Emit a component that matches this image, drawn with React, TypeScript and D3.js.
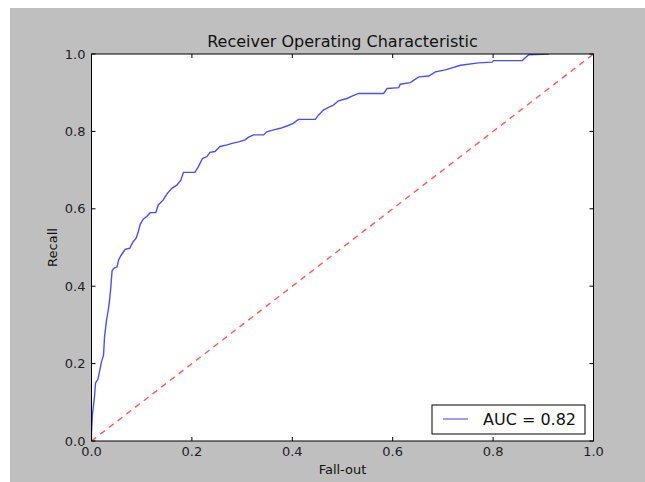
import { useEffect, useRef } from "react";
import * as d3 from "d3";

// ROC curve points
const fallOut = [
  0, 0, 0.002, 0.006, 0.008, 0.013, 0.016, 0.02, 0.024, 0.026, 0.03, 0.034,
  0.036, 0.038, 0.041, 0.045, 0.051, 0.054, 0.059, 0.067, 0.076, 0.083, 0.089,
  0.093, 0.097, 0.103, 0.11, 0.117, 0.128, 0.133, 0.143, 0.15, 0.16, 0.17,
  0.178, 0.183, 0.206, 0.213, 0.221, 0.23, 0.236, 0.246, 0.256, 0.27, 0.28,
  0.293, 0.306, 0.313, 0.323, 0.343, 0.349, 0.363, 0.376, 0.389, 0.402, 0.412,
  0.446, 0.452, 0.462, 0.472, 0.482, 0.492, 0.509, 0.519, 0.532, 0.582, 0.589,
  0.612, 0.615, 0.635, 0.652, 0.672, 0.685, 0.705, 0.735, 0.771, 0.798, 0.801,
  0.858, 0.871, 0.911,
];
const recall = [
  0, 0.02, 0.07, 0.115, 0.15, 0.16, 0.18, 0.205, 0.222, 0.27, 0.313, 0.343,
  0.364, 0.39, 0.44, 0.447, 0.45, 0.468, 0.48, 0.495, 0.498, 0.515, 0.524,
  0.54, 0.56, 0.573, 0.58, 0.59, 0.59, 0.61, 0.623, 0.638, 0.653, 0.661, 0.674,
  0.694, 0.694, 0.709, 0.73, 0.735, 0.746, 0.748, 0.761, 0.765, 0.769, 0.773,
  0.778, 0.785, 0.791, 0.791, 0.799, 0.804, 0.808, 0.814, 0.821, 0.831, 0.831,
  0.842, 0.855, 0.862, 0.868, 0.879, 0.885, 0.891, 0.898, 0.898, 0.911, 0.913,
  0.922, 0.926, 0.941, 0.943, 0.954, 0.959, 0.971, 0.977, 0.979, 0.983, 0.983,
  0.998, 1.0,
];
const ticks = [0, 0.2, 0.4, 0.6, 0.8, 1.0];
const aucLabel = "AUC = 0.82";

export default function App() {
  const svgRef = useRef<SVGSVGElement>(null);

  useEffect(() => {
    const svg = d3.select(svgRef.current);
    svg.selectAll("*").remove();

    const width = 645;
    const height = 482;
    const margin = { top: 54, right: 51.5, bottom: 41, left: 91.5 };
    const font = "DejaVu Sans, sans-serif";

    svg.attr("width", width).attr("height", height);

    // white strip + gray figure face
    svg.append("rect").attr("width", width).attr("height", height).attr("fill", "#fff");
    svg.append("rect").attr("x", 10).attr("y", 8).attr("width", width - 10).attr("height", height - 8).attr("fill", "#bfbfbf");

    const x = d3.scaleLinear().domain([0, 1]).range([margin.left, width - margin.right]);
    const y = d3.scaleLinear().domain([0, 1]).range([height - margin.bottom, margin.top]);

    svg
      .append("rect")
      .attr("x", x(0))
      .attr("y", y(1))
      .attr("width", x(1) - x(0))
      .attr("height", y(0) - y(1))
      .attr("fill", "#fff");

    const clip = svg.append("clipPath").attr("id", "plotclip");
    clip.append("rect").attr("x", x(0)).attr("y", y(1)).attr("width", x(1) - x(0)).attr("height", y(0) - y(1));

    const pts = fallOut.map((f, i) => [f, recall[i]] as [number, number]);
    const line = d3.line<[number, number]>().x((d) => x(d[0])).y((d) => y(d[1]));

    const g = svg.append("g").attr("clip-path", "url(#plotclip)");
    g.append("path")
      .datum(pts)
      .attr("d", line)
      .attr("fill", "none")
      .attr("stroke", "#0000ff")
      .attr("stroke-opacity", 0.7)
      .attr("stroke-width", 1.4);

    g.append("path")
      .datum([[0, 0], [1, 1]] as [number, number][])
      .attr("d", line)
      .attr("fill", "none")
      .attr("stroke", "#ff0000")
      .attr("stroke-opacity", 0.65)
      .attr("stroke-width", 1.4)
      .attr("stroke-dasharray", "6,5");

    // axes frame
    svg
      .append("rect")
      .attr("x", x(0))
      .attr("y", y(1))
      .attr("width", x(1) - x(0))
      .attr("height", y(0) - y(1))
      .attr("fill", "none")
      .attr("stroke", "#000")
      .attr("stroke-width", 1);

    // ticks pointing inward on all four sides
    const tickLen = 4;
    ticks.forEach((t) => {
      svg.append("line").attr("x1", x(t)).attr("x2", x(t)).attr("y1", y(0)).attr("y2", y(0) - tickLen).attr("stroke", "#000");
      svg.append("line").attr("x1", x(t)).attr("x2", x(t)).attr("y1", y(1)).attr("y2", y(1) + tickLen).attr("stroke", "#000");
      svg.append("line").attr("x1", x(0)).attr("x2", x(0) + tickLen).attr("y1", y(t)).attr("y2", y(t)).attr("stroke", "#000");
      svg.append("line").attr("x1", x(1)).attr("x2", x(1) - tickLen).attr("y1", y(t)).attr("y2", y(t)).attr("stroke", "#000");
    });

    svg
      .append("g")
      .selectAll("text")
      .data(ticks)
      .enter()
      .append("text")
      .attr("x", (d) => x(d))
      .attr("y", y(0) + 15)
      .attr("text-anchor", "middle")
      .attr("font-family", font)
      .attr("font-size", 13)
      .attr("fill", "#222")
      .text((d) => d.toFixed(1));

    svg
      .append("g")
      .selectAll("text")
      .data(ticks)
      .enter()
      .append("text")
      .attr("x", x(0) - 6)
      .attr("y", (d) => y(d) + 4.5)
      .attr("text-anchor", "end")
      .attr("font-family", font)
      .attr("font-size", 13)
      .attr("fill", "#222")
      .text((d) => d.toFixed(1));

    svg
      .append("text")
      .attr("x", (x(0) + x(1)) / 2)
      .attr("y", 47)
      .attr("text-anchor", "middle")
      .attr("font-family", font)
      .attr("font-size", 16)
      .attr("fill", "#111")
      .text("Receiver Operating Characteristic");

    svg
      .append("text")
      .attr("x", (x(0) + x(1)) / 2)
      .attr("y", 474)
      .attr("text-anchor", "middle")
      .attr("font-family", font)
      .attr("font-size", 13)
      .attr("fill", "#111")
      .text("Fall-out");

    svg
      .append("text")
      .attr("transform", `translate(57,${(y(0) + y(1)) / 2}) rotate(-90)`)
      .attr("text-anchor", "middle")
      .attr("font-family", font)
      .attr("font-size", 13)
      .attr("fill", "#111")
      .text("Recall");

    // legend
    const lg = svg.append("g").attr("transform", "translate(432,405)");
    lg.append("rect").attr("width", 153).attr("height", 29).attr("fill", "#fff").attr("stroke", "#000").attr("stroke-width", 1);
    lg.append("line").attr("x1", 11).attr("x2", 36).attr("y1", 14).attr("y2", 14).attr("stroke", "#0000ff").attr("stroke-opacity", 0.55).attr("stroke-width", 1.4);
    lg.append("text")
      .attr("x", 51)
      .attr("y", 20)
      .attr("font-family", font)
      .attr("font-size", 16)
      .attr("fill", "#111")
      .text(aucLabel);
  }, []);

  return (
    <div style={{ position: "absolute", left: 0, top: 0 }}>
      <svg ref={svgRef}></svg>
    </div>
  );
}
